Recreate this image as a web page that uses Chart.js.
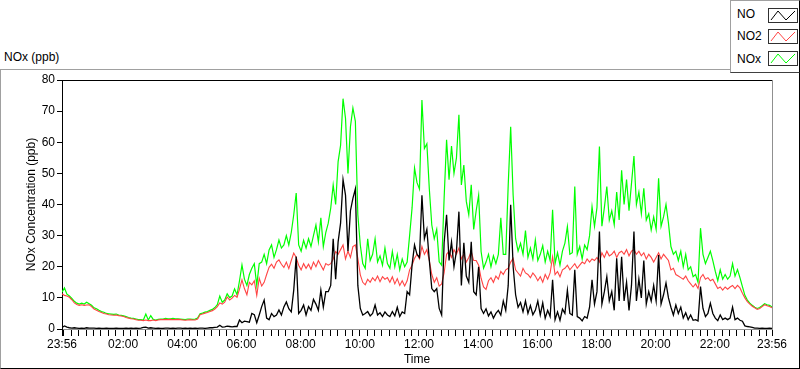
<!DOCTYPE html>
<html><head><meta charset="utf-8">
<script src="https://cdn.jsdelivr.net/npm/chart.js@4/dist/chart.umd.min.js"></script>
<style>
html,body{margin:0;padding:0;background:#fff;}
#wrap{position:relative;width:800px;height:369px;overflow:hidden;font-family:"Liberation Sans",Arial,sans-serif;color:#000;}
#panel{position:absolute;left:0;top:69px;width:798px;height:298px;border-top:1px solid #a0a0a0;border-left:1px solid #a0a0a0;border-right:1px solid #000;border-bottom:1px solid #000;}
#cv{position:absolute;left:0;top:0;}
#title{position:absolute;left:4px;top:50px;font-size:12px;}
#legend{position:absolute;left:730px;top:0;width:68px;height:71px;background:#fff;border-left:1px solid #a0a0a0;border-top:1px solid #a0a0a0;border-right:1px solid #000;border-bottom:1px solid #404040;z-index:3;}
.lt{position:absolute;left:6px;font-size:12px;}
.lb{position:absolute;left:37px;width:28px;height:13px;border:1px solid #303030;background:#fff;}
.lb svg{position:absolute;left:0;top:0;}
</style></head>
<body>
<div id="wrap">
  <div id="panel"></div>
  <div id="title">NOx (ppb)</div>
  <canvas id="cv" width="800" height="369"></canvas>
  <div id="legend">
    <div class="lt" style="top:6px">NO</div>
    <div class="lb" style="top:7px"><svg width="28" height="13"><polyline points="2,11 9,2 17,11 26,2" fill="none" stroke="#000" stroke-width="1"/></svg></div>
    <div class="lt" style="top:28px">NO2</div>
    <div class="lb" style="top:28px"><svg width="28" height="13"><polyline points="2,11 9,2 17,11 26,2" fill="none" stroke="#ff4444" stroke-width="1"/></svg></div>
    <div class="lt" style="top:51px">NOx</div>
    <div class="lb" style="top:50px"><svg width="28" height="13"><polyline points="2,11 9,2 17,11 26,2" fill="none" stroke="#00ff00" stroke-width="1"/></svg></div>
  </div>
</div>
<script>
// Sample interval (minutes from 23:56)
const STEP_MIN = 5;

// NO (ppb), 5-minute samples from 23:56 to 23:56
const NO = [
0.5,1.0,0.6,0.4,0.3,0.4,0.3,0.2,0.3,0.2,0.4,0.3,
0.3,0.3,0.2,0.3,0.2,0.2,0.3,0.2,0.2,0.2,0.3,0.2,
0.2,0.2,0.3,0.2,0.3,0.2,0.3,0.2,0.3,0.5,0.6,0.3,
0.4,0.3,0.2,0.3,0.2,0.2,0.3,0.3,0.2,0.3,0.2,0.3,
0.3,0.2,0.3,0.2,0.3,0.2,0.3,0.2,0.3,0.3,0.2,0.3,
0.4,0.4,0.5,0.6,1.2,0.6,0.7,0.9,0.8,0.7,0.8,0.8,
2.9,2.0,2.5,2.4,2.2,5.0,4.6,2.0,4.5,7.2,9.3,3.5,
3.0,5.0,4.0,4.5,6.1,4.5,7.1,8.7,6.5,5.5,12.5,23.3,
5.0,6.0,7.7,4.5,7.2,6.0,9.5,8.0,6.0,12.5,7.0,12.0,
12.0,14.0,29.0,16.0,28.0,34.0,48.0,43.0,25.0,38.0,42.0,45.0,
14.0,6.6,4.5,5.0,5.6,4.2,5.0,7.7,4.5,5.2,4.0,5.5,
4.5,4.0,5.6,4.2,7.0,4.0,5.5,5.0,12.0,11.0,20.6,27.0,
24.0,23.0,43.0,29.0,32.0,22.0,13.0,12.0,13.0,6.6,4.5,27.7,
36.7,22.0,28.0,20.0,25.0,37.7,14.0,27.7,17.0,15.0,28.0,12.0,
11.0,20.0,6.6,5.0,6.5,4.2,5.5,3.5,5.0,6.0,4.5,9.0,
6.0,14.0,39.9,20.0,11.0,7.0,8.5,5.5,9.0,5.0,7.5,4.6,
6.0,9.0,4.5,8.4,3.5,6.0,4.0,15.8,3.0,5.5,2.8,6.4,
5.0,12.5,5.0,4.5,19.0,4.0,3.5,2.6,4.0,3.5,7.0,15.8,
8.0,12.0,31.3,8.0,12.0,16.8,9.0,12.0,6.0,22.7,9.0,23.2,
9.0,15.0,6.0,14.0,31.3,9.0,16.0,10.0,22.0,8.0,12.0,9.0,
14.0,9.0,23.8,8.0,11.0,14.8,10.0,7.0,4.5,7.7,5.0,7.0,
3.5,5.2,3.0,4.5,2.8,3.0,2.6,13.6,6.6,4.0,5.0,8.3,
5.0,3.5,2.7,4.5,3.0,3.5,3.0,3.5,7.0,3.0,3.5,2.8,
2.5,1.0,0.8,0.7,0.5,0.3,0.3,0.2,0.3,0.2,0.2,0.3,0.2
];

// NO2 (ppb)
const NO2 = [
11.3,10.8,10.6,10.2,9.4,8.4,7.9,7.6,7.8,7.6,7.7,7.8,
7.2,6.4,6.0,5.6,5.3,5.0,4.8,4.6,4.5,4.4,4.5,4.3,
4.2,4.0,3.7,3.5,3.3,3.2,3.0,2.8,2.8,2.7,2.9,2.7,
2.7,2.9,2.7,2.9,3.0,3.0,3.1,3.0,3.1,3.0,3.0,3.1,
3.0,2.9,2.8,2.9,3.0,2.9,2.9,3.2,4.6,4.8,5.1,5.3,
5.6,5.9,6.4,7.2,8.4,8.0,8.6,10.3,9.3,9.9,10.8,10.2,
12.8,15.8,13.0,11.0,15.0,14.2,15.5,10.8,16.3,13.8,15.0,17.5,
19.8,20.8,19.5,21.5,22.2,20.8,19.8,21.5,19.4,22.0,24.4,23.0,
20.5,19.0,21.0,19.5,20.8,19.2,21.5,20.0,22.0,20.5,19.0,21.0,
20.5,21.0,22.5,24.9,24.0,25.5,27.0,22.5,25.0,23.0,26.5,27.0,
22.7,17.4,15.0,14.2,16.0,15.0,16.5,15.5,17.0,15.2,16.8,16.0,
16.5,15.0,16.8,14.5,16.2,14.0,15.5,13.8,15.5,19.0,20.5,22.7,
24.0,22.5,26.5,24.0,25.5,22.0,17.5,15.0,16.5,13.8,14.5,18.0,
24.0,25.0,23.0,25.5,24.0,26.0,22.5,24.0,21.5,23.0,24.9,22.0,
22.0,20.5,16.3,13.5,12.7,15.5,16.5,15.0,17.0,16.0,18.5,17.5,
19.0,19.5,21.5,22.7,19.0,18.0,17.0,19.5,18.0,17.5,16.5,18.0,
17.0,15.5,16.8,15.0,17.5,16.0,18.0,23.2,17.5,18.5,16.8,19.0,
19.5,20.5,19.0,20.0,21.0,19.5,20.5,21.5,21.0,22.5,21.5,22.5,
22.0,23.0,21.5,24.5,23.0,25.0,23.5,24.0,25.0,23.0,24.5,25.0,
24.0,25.5,23.5,25.0,25.5,24.0,25.0,23.5,24.5,22.5,24.0,23.0,
21.5,23.0,24.5,22.5,24.0,23.0,22.0,19.0,19.5,17.5,17.0,16.5,
16.0,17.0,15.5,14.5,13.5,14.5,13.0,16.5,17.5,16.0,16.5,15.5,
16.0,14.5,13.0,13.5,12.5,13.5,12.8,13.5,14.0,13.0,14.0,13.2,
11.5,10.0,8.8,8.0,7.3,6.8,6.3,6.6,7.2,7.8,7.5,7.2,6.8
];

// NOx (ppb)
const NOX = [
11.8,13.2,11.2,10.6,9.8,8.9,8.3,8.0,8.3,8.0,8.6,8.1,
7.6,6.8,6.5,6.0,5.6,5.4,5.0,4.9,4.8,4.7,4.8,4.5,
4.4,4.2,4.0,3.7,3.5,3.4,3.2,3.0,3.0,2.9,4.8,2.9,
4.3,3.1,2.9,3.1,3.2,3.2,3.4,3.3,3.3,3.4,3.3,3.3,
3.2,3.1,3.0,3.2,3.2,3.1,3.2,3.5,4.9,5.1,5.4,5.6,
6.0,6.3,6.9,7.8,10.6,8.6,9.3,11.3,10.1,10.6,12.9,11.0,
15.5,20.6,16.0,14.0,17.5,19.5,21.0,14.0,21.0,21.5,24.0,21.0,
25.4,27.0,23.0,25.5,28.6,26.0,27.0,30.0,27.0,31.0,36.7,43.7,
27.0,25.0,28.5,26.0,29.0,26.5,30.0,33.4,28.0,35.7,26.5,31.0,
34.0,38.8,46.3,40.0,53.8,59.0,74.0,67.7,50.0,65.0,71.0,66.7,
36.7,27.0,21.0,19.5,29.0,22.0,24.0,29.0,21.5,23.5,20.5,26.0,
21.0,19.5,24.9,20.0,24.0,19.0,22.5,20.0,21.5,30.0,38.9,51.7,
47.0,45.0,73.6,58.0,59.5,45.0,33.4,29.0,32.0,21.6,20.5,42.0,
60.8,48.0,58.8,50.0,55.0,68.8,46.3,52.7,41.0,36.7,46.3,32.0,
38.0,43.0,24.9,19.5,21.5,24.0,20.0,23.5,21.0,24.0,35.7,24.0,
24.0,46.3,65.0,43.0,29.0,25.0,27.5,24.0,31.6,23.0,26.0,22.5,
28.6,22.0,24.0,26.8,21.5,25.0,22.0,38.3,21.0,24.5,20.5,25.0,
27.6,32.9,24.0,24.5,45.8,24.0,26.5,22.5,27.0,25.5,30.0,39.3,
33.0,39.0,58.6,33.0,39.0,45.8,35.0,38.0,33.5,44.0,35.0,51.0,
40.0,48.0,38.0,46.7,55.6,40.0,44.0,37.0,45.2,35.0,37.0,31.8,
36.0,32.0,48.4,33.0,36.0,40.0,34.0,26.5,24.0,25.0,22.0,25.0,
20.0,24.0,19.0,20.0,16.8,17.5,15.0,32.4,24.0,21.0,23.0,25.0,
22.0,18.5,15.5,19.0,16.0,17.5,16.0,17.0,21.0,17.0,19.1,16.5,
13.6,10.8,9.3,8.3,7.6,7.0,6.6,6.9,7.5,8.1,7.8,7.6,7.1
];

// Labelled time ticks (minutes after 23:56) and their labels
const tickMinutes = [0,124,244,364,484,604,724,844,964,1084,1204,1324,1440];
const tickLabels  = ['23:56','02:00','04:00','06:00','08:00','10:00','12:00','14:00','16:00','18:00','20:00','22:00','23:56'];
const MINOR_START = 4, MINOR_STEP = 15;   // quarter-hour marks (00:00, 00:15, ...)

const yTicks = [0,10,20,30,40,50,60,70,80];

function toPoints(arr){ return arr.map((v,i)=>({x:i*STEP_MIN, y:v})); }

const xTickValues = [0];
for (let t = MINOR_START; t < 1440; t += MINOR_STEP) xTickValues.push(t);
xTickValues.push(1440);

const FONT = '"Liberation Sans", Arial, sans-serif';

const frame = {
  id:'frame',
  afterDraw(chart){
    const {ctx, chartArea:a} = chart;
    ctx.save();
    ctx.lineWidth = 1;
    ctx.strokeStyle = '#000';
    ctx.beginPath(); ctx.moveTo(a.left, a.top+0.5); ctx.lineTo(a.right, a.top+0.5); ctx.stroke();
    ctx.strokeStyle = '#909090';
    ctx.beginPath(); ctx.moveTo(a.right+0.5, a.top); ctx.lineTo(a.right+0.5, a.bottom); ctx.stroke();
    ctx.restore();
  }
};

new Chart(document.getElementById('cv'), {
  type:'line',
  data:{
    datasets:[
      {label:'NO',  data:toPoints(NO),  borderColor:'#000000', borderWidth:1.3, order:1},
      {label:'NO2', data:toPoints(NO2), borderColor:'#ff4444', borderWidth:1.1, order:2},
      {label:'NOx', data:toPoints(NOX), borderColor:'#00ff00', borderWidth:1.2, order:3}
    ]
  },
  options:{
    responsive:false, animation:false, devicePixelRatio:1,
    layout:{padding:{left:0,right:28,top:80,bottom:0}},
    plugins:{legend:{display:false}, tooltip:{enabled:false}},
    elements:{point:{radius:0}, line:{borderWidth:1, tension:0}},
    scales:{
      x:{
        type:'linear', min:0, max:1440,
        afterFit(s){ s.height = 40; },
        afterBuildTicks(s){ s.ticks = xTickValues.map(v=>({value:v})); },
        ticks:{autoSkip:false, maxRotation:0, minRotation:0, padding:1, color:'#000',
          font:{size:12, family:FONT},
          callback(v){ const k = tickMinutes.indexOf(v); return k>=0 ? tickLabels[k] : ''; }},
        grid:{drawOnChartArea:false, drawTicks:true, tickLength:7, tickColor:'#000', tickWidth:1},
        border:{display:true, color:'#909090', width:1},
        title:{display:true, text:'Time', color:'#000', font:{size:12, family:FONT}, padding:{top:0,bottom:2}}
      },
      y:{
        min:0, max:80,
        afterFit(s){ s.width = 62; },
        afterBuildTicks(s){ s.ticks = yTicks.map(v=>({value:v})); },
        ticks:{padding:2, color:'#000', font:{size:12, family:FONT}},
        grid:{drawOnChartArea:false, drawTicks:true, tickLength:5, tickColor:'#000'},
        border:{display:true, color:'#000', width:1},
        title:{display:true, text:'NOx Concentration (ppb)', color:'#000', font:{size:12, family:FONT}, padding:{top:24,bottom:0}}
      }
    }
  },
  plugins:[frame]
});
</script>
</body></html>
